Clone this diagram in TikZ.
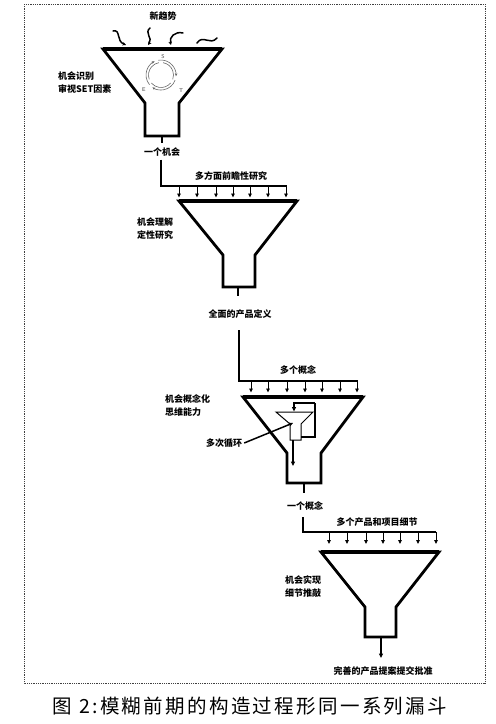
\documentclass[tikz,border=0pt]{standalone}
\usepackage{fontspec}
\newfontfamily\cjk{Noto Sans CJK SC}
\newfontfamily\cjkcap[LetterSpace=12]{Noto Sans CJK SC}
\usetikzlibrary{arrows.meta}
\tikzset{
  wall/.style={line width=2.8pt, line join=miter, miter limit=4},
  rim/.style={line width=4pt},
  conn/.style={line width=1.4pt},
  drop/.style={line width=0.9pt, -{Triangle[length=4pt,width=3.6pt]}},
  thinarrow/.style={line width=1.1pt, -{Triangle[length=4.5pt,width=4pt]}},
  lbl/.style={font=\cjk\bfseries\fontsize{9}{13}\selectfont, inner sep=0pt, align=left},
  set/.style={font=\sffamily\fontsize{5.5}{6}\selectfont, inner sep=0pt, text=black!75},
  wave/.style={line width=1.5pt, line cap=round, -{Stealth[length=3.5pt,width=3.5pt]}},
  cyc/.style={line width=0.6pt, draw=black!60},
}
\begin{document}
\begin{tikzpicture}[x=1pt, y=-1pt]
\useasboundingbox (0,0) rectangle (496,724);
% frame
\draw[black!75, line width=1pt, dash pattern=on 1pt off 0.8pt] (24,4) rectangle (485,683);

% ---------- funnel 1 ----------
\node[lbl] (trend) at (163,16) {新趋势};
\draw[wave] (113,31) .. controls (121,29) and (116,41) .. (126,45);
\draw[wave] (150,28) .. controls (144,33) and (153,38) .. (148,45);
\draw[wave] (183,33) .. controls (175,31) and (169,37) .. (171,45);
\draw[line width=1.5pt, line cap=round] (197,43) .. controls (203,34) and (210,46) .. (217,38);
\coordinate (f1tl) at (103,49); \coordinate (f1tr) at (222,49);
\coordinate (f1nl) at (145,103); \coordinate (f1nr) at (179,103);
\coordinate (f1bl) at (145,136); \coordinate (f1br) at (179,136);
\draw[wall] (f1tl) -- (f1nl) -- (f1bl) -- (f1br) -- (f1nr) -- (f1tr) -- cycle;
\draw[rim] (f1tl) -- (f1tr);
% SET cycle
\coordinate (cc) at (161,75);
\draw[cyc, -{Stealth[length=3pt,width=2.5pt]}] (cc) ++(-100:15) arc[start angle=-100, end angle=5, radius=15];
\draw[cyc, -{Stealth[length=3pt,width=2.5pt]}] (cc) ++(20:15) arc[start angle=20, end angle=125, radius=15];
\draw[cyc, -{Stealth[length=3pt,width=2.5pt]}] (cc) ++(140:15) arc[start angle=140, end angle=245, radius=15];
\draw[cyc] (cc) ++(-80:12.5) arc[start angle=-80, end angle=20, radius=12.5];
\draw[cyc] (cc) ++(40:12.5) arc[start angle=40, end angle=140, radius=12.5];
\draw[cyc] (cc) ++(160:12.5) arc[start angle=160, end angle=260, radius=12.5];
\node[set] (sS) at (163,57) {S};
\node[set] (sE) at (144,90) {E};
\node[set] (sT) at (181,91) {T};
\node[lbl, anchor=west] (l1a) at (58,76) {机会识别};
\node[lbl, anchor=west] (l1b) at (58,89) {审视SET因素};
\coordinate (f1s) at (162,136); \coordinate (f1e) at (162,143);
\draw[conn] (f1s) -- (f1e);
\node[lbl] (o1) at (162,152) {一个机会};
\coordinate (h1) at (287,186);
\draw[conn] ([xshift=-1pt,yshift=-3pt]o1.south) |- (h1);
\node[lbl] (r1) at (231,176) {多方面前瞻性研究};
\foreach \x in {179,197,216,233,250,268,286} \draw[drop] (\x,186) -- (\x,197.5);

% ---------- funnel 2 ----------
\coordinate (f2tl) at (179,201); \coordinate (f2tr) at (297,201);
\coordinate (f2nl) at (223,255); \coordinate (f2nr) at (255,255);
\coordinate (f2bl) at (223,287); \coordinate (f2br) at (255,287);
\draw[wall] (f2tl) -- (f2nl) -- (f2bl) -- (f2br) -- (f2nr) -- (f2tr) -- cycle;
\draw[rim] (f2tl) -- (f2tr);
\node[lbl, anchor=west] (l2a) at (137,222) {机会理解};
\node[lbl, anchor=west] (l2b) at (137,235) {定性研究};
\coordinate (f2s) at (238,287); \coordinate (f2e) at (238,296);
\draw[conn] (f2s) -- (f2e);
\node[lbl] (o2) at (240,314) {全面的产品定义};
\coordinate (v2) at (239,330); \coordinate (h2) at (358,381);
\draw[conn] (v2) |- (h2);
\node[lbl] (r2) at (298,370) {多个概念};
\foreach \x in {251,268,287,305,322,340,357} \draw[drop] (\x,381) -- (\x,392.5);

% ---------- funnel 3 ----------
\coordinate (f3tl) at (243,397); \coordinate (f3tr) at (363,397);
\coordinate (f3nl) at (287,453); \coordinate (f3nr) at (321,453);
\coordinate (f3bl) at (287,483); \coordinate (f3br) at (321,483);
\draw[wall] (f3tl) -- (f3nl) -- (f3bl) -- (f3br) -- (f3nr) -- (f3tr) -- cycle;
\draw[rim] (f3tl) -- (f3tr);
% inner small funnel
\coordinate (s1) at (276,412); \coordinate (s2) at (313,412);
\coordinate (s3) at (301,424); \coordinate (s4) at (301,440);
\coordinate (s5) at (290,440); \coordinate (s6) at (290,424);
\draw[line width=1pt, fill=white] (s1) -- (s2) -- (s3) -- (s4) -- (s5) -- (s6) -- cycle;
\coordinate (lp0) at (301,437); \coordinate (lp1) at (315,403); \coordinate (lp2) at (294,411.5);
\draw[line width=1.1pt] (lp0) -| (lp1);
\draw[thinarrow] (lp1) -| (lp2);
\coordinate (d0) at (293,440); \coordinate (d1) at (293,466);
\draw[thinarrow] (d0) -- (d1);
\node[lbl, anchor=west] (l3a) at (165,399) {机会概念化};
\node[lbl, anchor=west] (l3b) at (165,412) {思维能力};
\node[lbl] (loop) at (224,443) {多次循环};
\coordinate (pt) at (293,423);
\draw[line width=1.5pt, -{Stealth[length=4pt,width=4pt]}] ([xshift=2pt]loop.east) -- (pt);
\coordinate (f3s) at (304,483); \coordinate (f3e) at (304,493);
\draw[conn] (f3s) -- (f3e);
\node[lbl] (o3) at (305,506) {一个概念};
\coordinate (v3) at (303,517); \coordinate (h3) at (436,532);
\draw[conn] (v3) |- (h3);
\node[lbl] (r3) at (377,522) {多个产品和项目细节};
\foreach \x in {329,347,366,383,400,418,436} \draw[drop] (\x,532) -- (\x,544);

% ---------- funnel 4 ----------
\coordinate (f4tl) at (321,552); \coordinate (f4tr) at (439,552);
\coordinate (f4nl) at (365,607); \coordinate (f4nr) at (396,607);
\coordinate (f4bl) at (365,637); \coordinate (f4br) at (396,637);
\draw[wall] (f4tl) -- (f4nl) -- (f4bl) -- (f4br) -- (f4nr) -- (f4tr) -- cycle;
\draw[rim] (f4tl) -- (f4tr);
\node[lbl, anchor=west] (l4a) at (285,580) {机会实现};
\node[lbl, anchor=west] (l4b) at (285,593) {细节推敲};
\coordinate (f4s) at (381,637); \coordinate (f4e) at (381,658);
\draw[thinarrow] (f4s) -- (f4e);
\node[lbl] (o4) at (383,671) {完善的产品提案提交批准};

% caption
\node[font=\cjkcap\fontsize{19.5}{22}\selectfont, inner sep=0pt] (cap) at (250,706) {图 2:模糊前期的构造过程形同一系列漏斗};
\end{tikzpicture}
\end{document}
